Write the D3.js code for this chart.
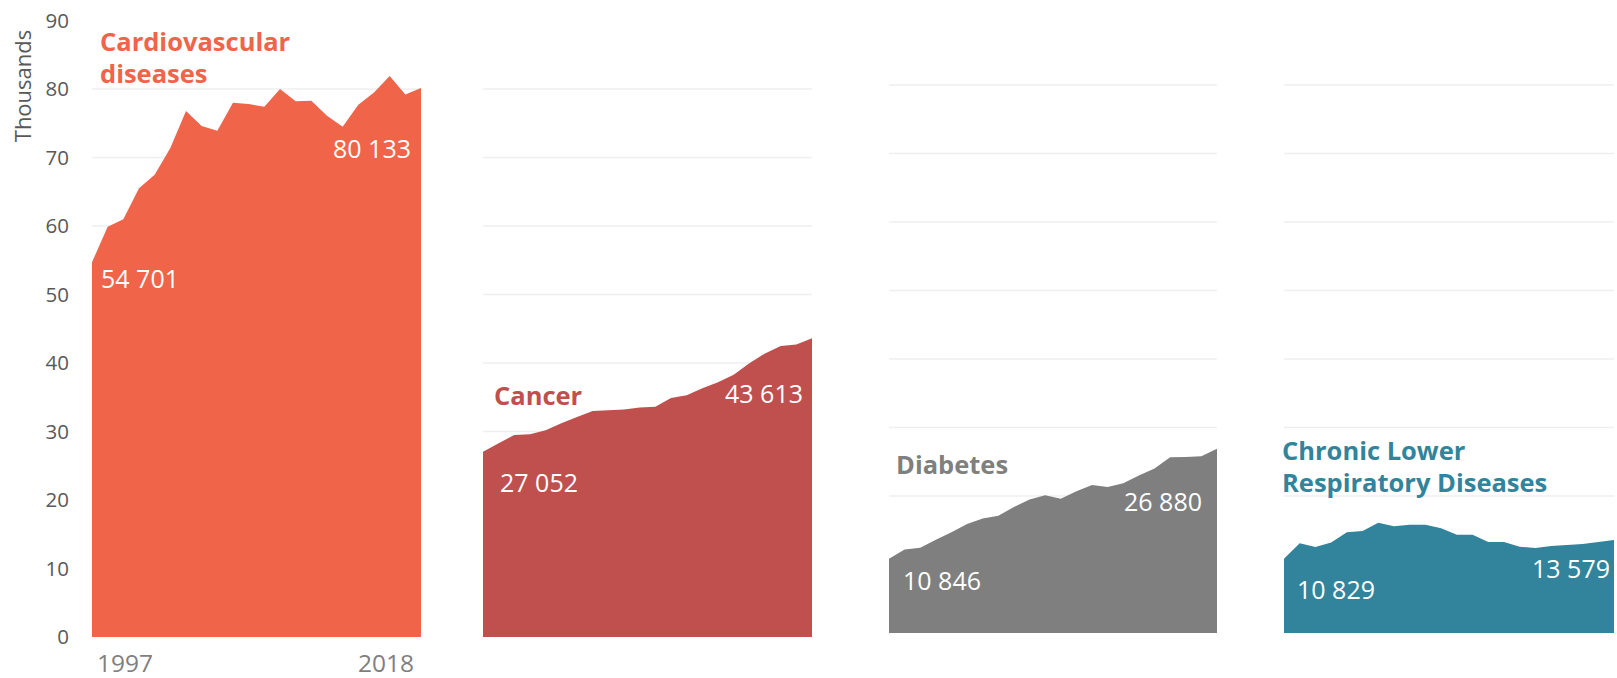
<!DOCTYPE html>
<html>
<head>
<meta charset="utf-8">
<script src="https://cdn.jsdelivr.net/npm/d3@7"></script>
<style>
  body { margin: 0; background: #fff; }
  text { font-family: "Open Sans", "Noto Sans", sans-serif; }
</style>
</head>
<body>
<div id="chart"></div>
<script>
// deaths per year, in thousands
const years = d3.range(1997, 2019)
const cardio = [54.701, 59.9, 61.0, 65.5, 67.5, 71.4, 76.8, 74.6, 73.9, 78.0, 77.8, 77.4, 80.0, 78.2, 78.3, 76.1, 74.5, 77.7, 79.5, 81.9, 79.2, 80.133]
const cancer = [27.052, 28.3, 29.5, 29.6, 30.2, 31.2, 32.1, 33.0, 33.1, 33.2, 33.5, 33.6, 34.9, 35.3, 36.3, 37.2, 38.3, 39.95, 41.4, 42.5, 42.7, 43.613]
const diabetes = [10.846, 12.2, 12.45, 13.6, 14.7, 15.9, 16.7, 17.1, 18.4, 19.5, 20.1, 19.6, 20.7, 21.6, 21.3, 21.85, 23.0, 24.0, 25.65, 25.7, 25.8, 26.880]
const clrd = [10.829, 13.1, 12.55, 13.2, 14.7, 14.9, 16.1, 15.6, 15.8, 15.8, 15.3, 14.35, 14.35, 13.3, 13.3, 12.6, 12.4, 12.7, 12.85, 13.0, 13.3, 13.579]
const seriesNames = [["Cardiovascular", "diseases"], ["Cancer"], ["Diabetes"], ["Chronic Lower", "Respiratory Diseases"]]
const colors = ["#F0644A", "#C0504D", "#7F7F7F", "#31849B"]
const yTicks = [0, 10, 20, 30, 40, 50, 60, 70, 80, 90]
const yearLabels = ["1997", "2018"]

const width = 1617, height = 678

// layout of each small panel (pixels)
const panels = [
    { x: 92, w: 329, base: 637, title: [8, 51], start: [9, 288], end: [319, 158] },
    { x: 483, w: 329, base: 637, title: [11, 405], start: [17, 492], end: [320, 403] },
    { x: 889, w: 328, base: 633, title: [7, 474], start: [14, 590], end: [313, 511] },
    { x: 1284, w: 330, base: 633, title: [-2, 460], start: [13, 599], end: [326, 578] }
]
const allSeries = [cardio, cancer, diabetes, clrd]

const fmt = v => d3.format(",")(Math.round(v * 1000)).replace(/,/g, " ")

const svg = d3.select("#chart")
    .append("svg")
    .attr("width", width)
    .attr("height", height)

allSeries.forEach((values, i) => {
    const p = panels[i]
    const xScale = d3.scaleLinear()
        .domain([years[0], years[years.length - 1]])
        .range([0, p.w])
    const yScale = d3.scaleLinear()
        .domain([0, 90])
        .range([p.base, p.base - 90 * 6.85])

    const g = svg.append("g")
        .attr("transform", "translate(" + p.x + ",0)")

    // grid
    g.selectAll(".grid")
        .data(yTicks.filter(t => t > 0 && t < 90))
        .enter()
        .append("line")
        .attr("x1", 0)
        .attr("x2", p.w)
        .attr("y1", d => yScale(d))
        .attr("y2", d => yScale(d))
        .attr("stroke", "#EFEFEF")
        .attr("stroke-width", 1.5)

    const area = d3.area()
        .x((d, j) => xScale(years[j]))
        .y0(yScale(0))
        .y1(d => yScale(d))

    g.append("path")
        .datum(values)
        .attr("d", area)
        .attr("fill", colors[i])

    // title
    const title = g.append("text")
        .attr("x", p.title[0])
        .attr("y", p.title[1])
        .attr("fill", colors[i])
        .attr("font-size", 25.5)
        .attr("font-weight", "bold")
    seriesNames[i].forEach((line, k) => {
        title.append("tspan")
            .attr("x", p.title[0])
            .attr("dy", k == 0 ? 0 : 32)
            .text(line)
    })

    g.append("text")
        .attr("x", p.start[0])
        .attr("y", p.start[1])
        .attr("fill", "#fff")
        .attr("font-size", 25)
        .text(fmt(values[0]))
    g.append("text")
        .attr("x", p.end[0])
        .attr("y", p.end[1])
        .attr("text-anchor", "end")
        .attr("fill", "#fff")
        .attr("font-size", 25)
        .text(fmt(values[values.length - 1]))

    if (i == 0) {
        const yAxis = d3.axisLeft(yScale)
            .tickValues(yTicks)
            .tickSize(0)
            .tickPadding(0)
        const ax = svg.append("g")
            .attr("transform", "translate(69,0)")
            .call(yAxis)
        ax.select(".domain").remove()
        ax.selectAll("text")
            .attr("font-size", 20.5)
            .attr("fill", "#595959")
            .attr("font-family", "Open Sans, sans-serif")

        svg.append("text")
            .attr("transform", "translate(31,86) rotate(-90)")
            .attr("text-anchor", "middle")
            .attr("font-size", 22)
            .attr("fill", "#595959")
            .text("Thousands")

        g.append("text")
            .attr("x", 5)
            .attr("y", 672)
            .attr("font-size", 24.5)
            .attr("fill", "#7F7F7F")
            .text(yearLabels[0])
        g.append("text")
            .attr("x", 322)
            .attr("y", 672)
            .attr("text-anchor", "end")
            .attr("font-size", 24.5)
            .attr("fill", "#7F7F7F")
            .text(yearLabels[1])
    }
})
</script>
</body>
</html>
